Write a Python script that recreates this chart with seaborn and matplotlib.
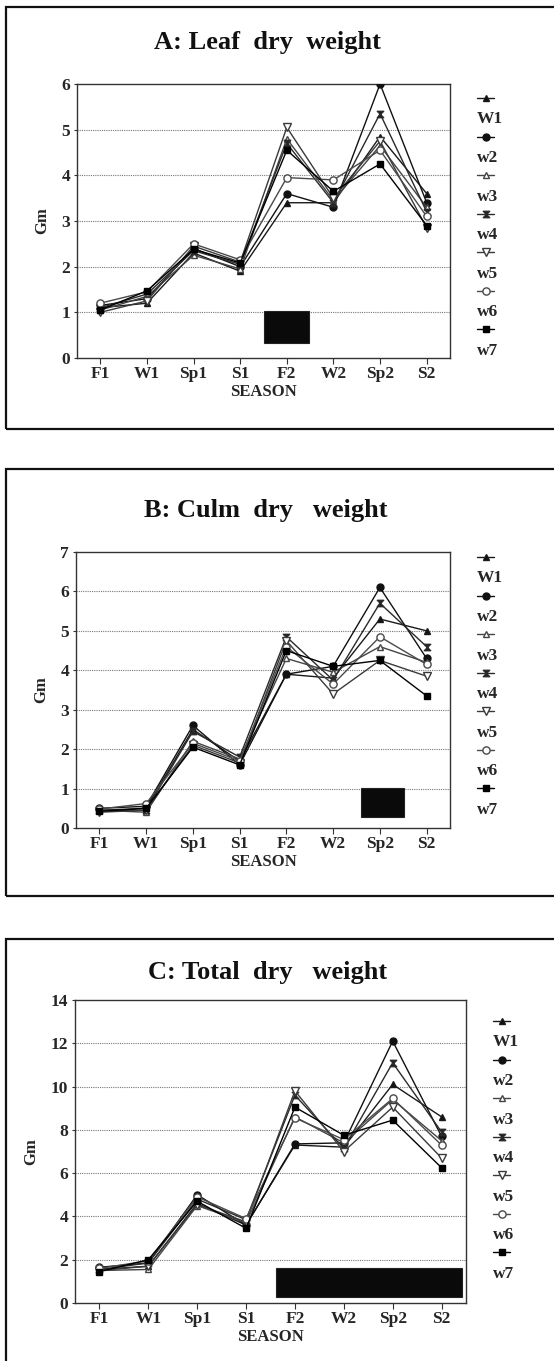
import numpy as np
import pandas as pd
import matplotlib
matplotlib.use("Agg")
import matplotlib.pyplot as plt
import seaborn as sns
from matplotlib.lines import Line2D
from matplotlib.patches import Rectangle
from matplotlib.path import Path

sns.set_theme(style="white")
plt.rcParams["font.family"] = ["Liberation Serif", "DejaVu Serif"]
plt.rcParams["font.weight"] = "bold"

# ---------------- data ----------------
seasons = ["F1", "W1", "Sp1", "S1", "F2", "W2", "Sp2", "S2"]
series = ["W1", "w2", "w3", "w4", "w5", "w6", "w7"]

leaf_dry = [
    [1.10, 1.20, 2.30, 1.90, 3.40, 3.40, 4.85, 3.60],
    [1.15, 1.30, 2.40, 2.00, 3.60, 3.30, 6.00, 3.40],
    [1.05, 1.35, 2.25, 1.95, 4.80, 3.45, 4.65, 3.30],
    [1.10, 1.40, 2.35, 2.05, 4.70, 3.40, 5.35, 3.20],
    [1.00, 1.25, 2.45, 2.10, 5.05, 3.50, 4.75, 2.85],
    [1.20, 1.45, 2.50, 2.15, 3.95, 3.90, 4.55, 3.10],
    [1.05, 1.47, 2.38, 2.08, 4.55, 3.65, 4.25, 2.90],
]
culm_dry = [
    [0.45, 0.50, 2.50, 1.70, 3.90, 3.80, 5.30, 5.00],
    [0.50, 0.55, 2.60, 1.60, 3.90, 4.10, 6.10, 4.30],
    [0.45, 0.40, 2.20, 1.75, 4.30, 3.95, 4.60, 4.20],
    [0.45, 0.45, 2.45, 1.80, 4.85, 3.75, 5.70, 4.60],
    [0.40, 0.45, 2.10, 1.65, 4.75, 3.40, 4.25, 3.85],
    [0.48, 0.62, 2.15, 1.70, 4.60, 3.65, 4.85, 4.15],
    [0.42, 0.50, 2.05, 1.60, 4.50, 4.10, 4.25, 3.35],
]
total_dry = [
    [1.55, 1.70, 4.60, 3.60, 7.30, 7.20, 10.10, 8.60],
    [1.65, 1.85, 5.00, 3.60, 7.35, 7.40, 12.10, 7.70],
    [1.50, 1.55, 4.50, 3.70, 8.60, 7.40, 9.40, 7.50],
    [1.55, 1.85, 4.80, 3.85, 9.60, 7.15, 11.10, 7.90],
    [1.50, 1.70, 4.55, 3.75, 9.80, 7.00, 9.05, 6.70],
    [1.60, 1.95, 4.90, 3.90, 8.55, 7.55, 9.45, 7.30],
    [1.45, 2.00, 4.70, 3.45, 9.05, 7.75, 8.45, 6.25],
]

titles = ["A: Leaf  dry  weight", "B: Culm  dry   weight", "C: Total  dry   weight"]
y_max = [6, 7, 14]
y_step = [1, 1, 2]

# ---------------- styles ----------------
hourglass = Path([(-1, 1), (1, 1), (-1, -1), (1, -1), (-1, 1)],
                 [Path.MOVETO, Path.LINETO, Path.LINETO, Path.LINETO, Path.CLOSEPOLY])
markers = ["^", "o", "^", hourglass, "v", "o", "s"]
faces = ["#111111", "#111111", "white", "#222222", "white", "white", "#000000"]
colors = ["#1a1a1a", "#111111", "#444444", "#2a2a2a", "#3a3a3a", "#4a4a4a", "#000000"]
msizes = [4.8, 5.0, 5.0, 4.6, 5.2, 5.2, 5.0]

W, H = 554, 1361
fig = plt.figure(figsize=(W / 100, H / 100), dpi=100)


def fx(px):
    return px / W


def fy(py):
    return 1 - py / H


# axes rectangles (left, top, right, bottom) in px
axes_px = [(77, 84, 450, 358), (76, 552, 450, 828), (75, 1000, 466, 1303)]
boxes_px = [(6, 7, 570, 429), (6, 469, 570, 896), (6, 939, 570, 1400)]
title_px = [(267, 43), (266, 510), (268, 972)]
legend_px = [(477, 92), (477, 551), (493, 1015)]
black_px = [(264, 311, 309, 343), (361, 788, 404, 817), (276, 1268, 462, 1297)]

datasets = [leaf_dry, culm_dry, total_dry]

for k in range(3):
    # panel frame
    bx0, by0, bx1, by1 = boxes_px[k]
    fig.patches.append(Rectangle((fx(bx0), fy(by1)), fx(bx1) - fx(bx0), fy(by0) - fy(by1),
                                 transform=fig.transFigure, fill=False,
                                 edgecolor="#111111", linewidth=1.6, zorder=0))
    l, t, r, b = axes_px[k]
    ax = fig.add_axes([fx(l), fy(b), fx(r) - fx(l), fy(t) - fy(b)])
    ax.set_facecolor("white")

    rows = []
    for i, s in enumerate(series):
        for j, season in enumerate(seasons):
            rows.append({"series": s, "pos": j, "value": datasets[k][i][j]})
    df = pd.DataFrame(rows)

    for i, s in enumerate(series):
        sub = df[df["series"] == s]
        sns.lineplot(data=sub, x="pos", y="value", ax=ax, color=colors[i],
                     marker=markers[i], markersize=msizes[i],
                     markerfacecolor=faces[i], markeredgecolor=colors[i],
                     markeredgewidth=1.0, linewidth=1.0, legend=False,
                     errorbar=None, zorder=3 + i)

    ax.set_xlim(-0.5, 7.5)
    ax.set_ylim(0, y_max[k])
    ax.set_xticks(range(len(seasons)))
    ax.set_xticklabels(seasons, fontsize=12.5, fontweight="bold")
    yt = np.arange(0, y_max[k] + 0.1, y_step[k])
    ax.set_yticks(yt)
    ax.set_yticklabels([f"{int(v)}" for v in yt], fontsize=12.5, fontweight="bold")
    ax.tick_params(axis="x", direction="out", length=4, width=0.8, color="#333333",
                   pad=2, bottom=True)
    ax.tick_params(axis="y", direction="out", length=2, width=0.8, color="#333333",
                   pad=3, left=True)
    for sp in ax.spines.values():
        sp.set_color("#333333")
        sp.set_linewidth(1.0)
    for v in yt[1:-1]:
        ax.axhline(v, color="#777777", linewidth=0.8, linestyle=(0, (1, 1)), zorder=1)
    ax.set_xlabel("SEASON", fontsize=12, fontweight="bold", labelpad=1)
    ax.set_ylabel("Gm", fontsize=12, fontweight="bold", labelpad=8)

    # obscured label box in the scan
    x0, y0, x1, y1 = black_px[k]
    fig.patches.append(Rectangle((fx(x0), fy(y1)), fx(x1) - fx(x0), fy(y0) - fy(y1),
                                 transform=fig.transFigure, facecolor="#0a0a0a",
                                 edgecolor="#222222", linewidth=0.8, zorder=5))

    # title
    tx, ty = title_px[k]
    fig.text(fx(tx), fy(ty), titles[k], ha="center", va="center",
             fontsize=19, fontweight="bold", color="#111111")

    # legend: marker row above each label
    handles, labels = [], []
    for i, s in enumerate(series):
        handles.append(Line2D([], [], color=colors[i], marker=markers[i],
                              markersize=msizes[i], markerfacecolor=faces[i],
                              markeredgecolor=colors[i], linewidth=1.0))
        labels.append("")
        handles.append(Line2D([], [], color="none"))
        labels.append(s)
    lx, ly = legend_px[k]
    fig.legend(handles, labels, loc="upper left", bbox_to_anchor=(fx(lx), fy(ly)),
               bbox_transform=fig.transFigure, frameon=False,
               handlelength=1.0, handletextpad=-1.0, labelspacing=0.18,
               borderpad=0, borderaxespad=0, prop={"weight": "bold", "size": 12.5})

fig.savefig("out.png", dpi=100, facecolor="white")
